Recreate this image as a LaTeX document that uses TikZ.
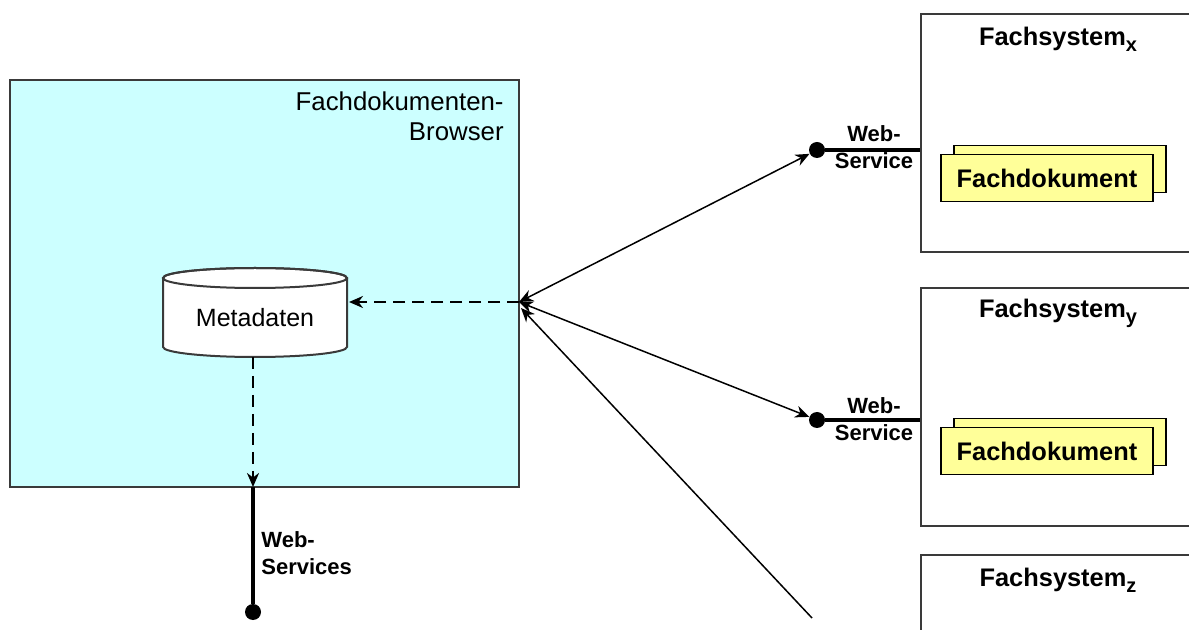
\documentclass[tikz,border=0pt]{standalone}
\usepackage{fontspec}
\setmainfont{Liberation Sans}
\usetikzlibrary{arrows.meta}
\definecolor{browsercyan}{HTML}{CCFFFF}
\definecolor{dokyellow}{HTML}{FFFF99}
\definecolor{rahmen}{HTML}{3A3A3A}
\newcommand{\fsindex}[1]{\raisebox{-0.45ex}{\fontsize{10}{10}\selectfont #1}}

\begin{document}
\begin{tikzpicture}[x=0.5pt,y=-0.5pt,>={Stealth[length=7pt,width=6pt]},
    box/.style={draw=rahmen,line width=1pt},
    dok/.style={draw=black,fill=dokyellow,line width=0.9pt,minimum width=106pt,minimum height=23.5pt,inner sep=0pt},
    ws/.style={line width=2pt},
    wsdot/.style={circle,fill=black,inner sep=0pt,minimum size=8pt},
    wslabel/.style={font=\bfseries\fontsize{11}{13.5}\selectfont,inner sep=0pt},
    titel/.style={font=\bfseries\fontsize{12.7}{15}\selectfont,inner sep=0pt},
    pfeil/.style={line width=0.75pt},
    gestrichelt/.style={line width=1.1pt,dash pattern=on 6pt off 3.5pt}]
    \useasboundingbox (0,0) rectangle (1189,630);

    \draw[box,fill=browsercyan] (10,80) rectangle (519,487);
    \node[anchor=north east,align=right,inner sep=0pt,font=\fontsize{12.9}{15}\selectfont] (browser) at (504,91) {Fachdokumenten-\\Browser};

    \draw[box,fill=white] (163,278) -- (163,347) arc[start angle=180,end angle=360,x radius=46pt,y radius=5pt] -- (347,278) arc[start angle=0,end angle=180,x radius=46pt,y radius=5pt] -- cycle;
    \draw[box] (255,278) ellipse[x radius=46pt,y radius=5pt];
    \node[font=\fontsize{12.5}{15}\selectfont] (meta) at (255,318) {Metadaten};

    \coordinate (hub) at (519,302);
    \coordinate (hubz) at (521,308);
    \coordinate (metaR) at (349,302);
    \coordinate (metaB) at (253,357);
    \coordinate (wsB) at (253,487);
    \coordinate (zende) at (812,618);

    \draw[gestrichelt,->] (hub) -- (metaR);
    \draw[gestrichelt,->] (metaB) -- (wsB);
    \node[wsdot] (wsdot) at (253,612) {};
    \draw[ws] (wsB) -- (wsdot);
    \node[wslabel,anchor=north west,align=left] (wslabel) at (261,531) {Web-\\Services};

    \node[box,anchor=north west,minimum width=140pt,minimum height=119pt] (fsx) at (920,13) {};
    \node[box,anchor=north west,minimum width=140pt,minimum height=119pt] (fsy) at (920,287) {};
    \node[box,anchor=north west,minimum width=140pt,minimum height=60pt] (fsz) at (920,554) {};
    \node[titel] (titelx) at (1058,39) {Fachsystem\fsindex{x}};
    \node[titel] (titely) at (1058,313) {Fachsystem\fsindex{y}};
    \node[titel] (titelz) at (1058,580) {Fachsystem\fsindex{z}};

    \node[dok] (dokxback) at (1060,169) {};
    \node[dok,font=\bfseries\fontsize{12.7}{15}\selectfont] (dokx) at (1047,178) {Fachdokument};
    \node[dok] (dokyback) at (1060,442) {};
    \node[dok,font=\bfseries\fontsize{12.7}{15}\selectfont] (doky) at (1047,451) {Fachdokument};

    \node[wsdot] (dotx) at (817,150) {};
    \node[wsdot] (doty) at (817,420) {};
    \draw[ws] (dotx) -- (dotx -| fsx.west);
    \draw[ws] (doty) -- (doty -| fsy.west);
    \node[wslabel,align=center] (wsx) at (874,147) {Web-\\Service};
    \node[wslabel,align=center] (wsy) at (874,419) {Web-\\Service};

    \draw[pfeil,<->] (hub) -- (dotx);
    \draw[pfeil,<->] (hub) -- (doty);
    \draw[pfeil,<-] (hubz) -- (zende);
\end{tikzpicture}
\end{document}
